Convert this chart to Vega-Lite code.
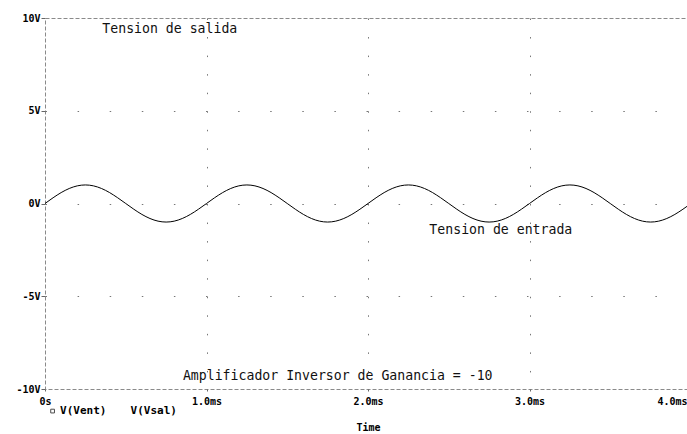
{
  "$schema": "https://vega.github.io/schema/vega-lite/v6.json",
  "width": 646,
  "height": 371,
  "autosize": "none",
  "padding": {"left": 45, "top": 18, "right": -4, "bottom": 45},
  "background": "white",
  "config": {
    "view": {"stroke": "#8a8a8a", "strokeDash": [4, 2], "strokeWidth": 1},
    "axis": {
      "labelFont": "DejaVu Sans Mono",
      "labelFontWeight": "bold",
      "labelFontSize": 10,
      "labelColor": "#000",
      "titleFont": "DejaVu Sans Mono",
      "titleFontWeight": "bold",
      "titleFontSize": 10,
      "titleColor": "#000",
      "domain": false,
      "tickColor": "#666",
      "gridColor": "#777",
      "gridWidth": 1
    }
  },
  "datasets": {
    "vent": [
      {"t": 0.00, "v": 0}, {"t": 0.05, "v": 0.309}, {"t": 0.10, "v": 0.588}, {"t": 0.15, "v": 0.809}, {"t": 0.20, "v": 0.951},
      {"t": 0.25, "v": 1}, {"t": 0.30, "v": 0.951}, {"t": 0.35, "v": 0.809}, {"t": 0.40, "v": 0.588}, {"t": 0.45, "v": 0.309},
      {"t": 0.50, "v": 0}, {"t": 0.55, "v": -0.309}, {"t": 0.60, "v": -0.588}, {"t": 0.65, "v": -0.809}, {"t": 0.70, "v": -0.951},
      {"t": 0.75, "v": -1}, {"t": 0.80, "v": -0.951}, {"t": 0.85, "v": -0.809}, {"t": 0.90, "v": -0.588}, {"t": 0.95, "v": -0.309},
      {"t": 1.00, "v": 0}, {"t": 1.05, "v": 0.309}, {"t": 1.10, "v": 0.588}, {"t": 1.15, "v": 0.809}, {"t": 1.20, "v": 0.951},
      {"t": 1.25, "v": 1}, {"t": 1.30, "v": 0.951}, {"t": 1.35, "v": 0.809}, {"t": 1.40, "v": 0.588}, {"t": 1.45, "v": 0.309},
      {"t": 1.50, "v": 0}, {"t": 1.55, "v": -0.309}, {"t": 1.60, "v": -0.588}, {"t": 1.65, "v": -0.809}, {"t": 1.70, "v": -0.951},
      {"t": 1.75, "v": -1}, {"t": 1.80, "v": -0.951}, {"t": 1.85, "v": -0.809}, {"t": 1.90, "v": -0.588}, {"t": 1.95, "v": -0.309},
      {"t": 2.00, "v": 0}, {"t": 2.05, "v": 0.309}, {"t": 2.10, "v": 0.588}, {"t": 2.15, "v": 0.809}, {"t": 2.20, "v": 0.951},
      {"t": 2.25, "v": 1}, {"t": 2.30, "v": 0.951}, {"t": 2.35, "v": 0.809}, {"t": 2.40, "v": 0.588}, {"t": 2.45, "v": 0.309},
      {"t": 2.50, "v": 0}, {"t": 2.55, "v": -0.309}, {"t": 2.60, "v": -0.588}, {"t": 2.65, "v": -0.809}, {"t": 2.70, "v": -0.951},
      {"t": 2.75, "v": -1}, {"t": 2.80, "v": -0.951}, {"t": 2.85, "v": -0.809}, {"t": 2.90, "v": -0.588}, {"t": 2.95, "v": -0.309},
      {"t": 3.00, "v": 0}, {"t": 3.05, "v": 0.309}, {"t": 3.10, "v": 0.588}, {"t": 3.15, "v": 0.809}, {"t": 3.20, "v": 0.951},
      {"t": 3.25, "v": 1}, {"t": 3.30, "v": 0.951}, {"t": 3.35, "v": 0.809}, {"t": 3.40, "v": 0.588}, {"t": 3.45, "v": 0.309},
      {"t": 3.50, "v": 0}, {"t": 3.55, "v": -0.309}, {"t": 3.60, "v": -0.588}, {"t": 3.65, "v": -0.809}, {"t": 3.70, "v": -0.951},
      {"t": 3.75, "v": -1}, {"t": 3.80, "v": -0.951}, {"t": 3.85, "v": -0.809}, {"t": 3.90, "v": -0.588}, {"t": 3.95, "v": -0.309},
      {"t": 4.00, "v": 0}
    ],
    "notes": [
      {"t": 0.355, "v": 9.41, "label": "Tension de salida"},
      {"t": 2.38, "v": -1.43, "label": "Tension de entrada"},
      {"t": 0.854, "v": -9.3, "label": "Amplificador Inversor de Ganancia = -10"}
    ],
    "legendText": [
      {"t": 0.093, "v": -11.19, "label": "V(Vent)"},
      {"t": 0.53, "v": -11.19, "label": "V(Vsal)"}
    ],
    "legendSymbol": [
      {"t": 0.047, "v": -11.19}
    ]
  },
  "layer": [
    {
      "data": {"name": "vent"},
      "mark": {"type": "line", "color": "#000", "strokeWidth": 1, "interpolate": "monotone"},
      "encoding": {
        "x": {
          "field": "t", "type": "quantitative",
          "scale": {"domain": [0, 4], "nice": false, "zero": false},
          "axis": {
            "values": [0, 1, 2, 3, 4],
            "labelExpr": "datum.value == 0 ? '0s' : format(datum.value, '.1f') + 'ms'",
            "labelAlign": {"condition": {"test": "datum.value == 4", "value": "right"}, "value": "center"},
            "labelOffset": {"condition": {"test": "datum.value == 4", "value": -4}, "value": 0},
            "tickSize": 2,
            "labelPadding": 5,
            "title": "Time",
            "titlePadding": 16,
            "grid": true,
            "gridDash": [1.5, 17.05],
            "gridOpacity": {"condition": {"test": "datum.value == 0 || datum.value == 4", "value": 0}, "value": 1}
          }
        },
        "y": {
          "field": "v", "type": "quantitative",
          "scale": {"domain": [-10, 10], "nice": false},
          "axis": {
            "values": [-10, -5, 0, 5, 10],
            "labelExpr": "datum.value + 'V'",
            "tickSize": 4,
            "labelPadding": 1,
            "title": null,
            "grid": true,
            "gridDash": [1.5, 30.6],
            "gridOpacity": {"condition": {"test": "datum.value == -10 || datum.value == 10", "value": 0}, "value": 1}
          }
        }
      }
    },
    {
      "data": {"name": "notes"},
      "mark": {"type": "text", "align": "left", "baseline": "middle", "font": "DejaVu Sans Mono", "fontSize": 13.2, "color": "#111"},
      "encoding": {
        "x": {"field": "t", "type": "quantitative"},
        "y": {"field": "v", "type": "quantitative"},
        "text": {"field": "label"}
      }
    },
    {
      "data": {"name": "legendText"},
      "mark": {"type": "text", "align": "left", "baseline": "middle", "font": "DejaVu Sans Mono", "fontWeight": "bold", "fontSize": 11, "color": "#000"},
      "encoding": {
        "x": {"field": "t", "type": "quantitative"},
        "y": {"field": "v", "type": "quantitative"},
        "text": {"field": "label"}
      }
    },
    {
      "data": {"name": "legendSymbol"},
      "mark": {"type": "point", "shape": "square", "size": 14, "filled": false, "stroke": "#000", "strokeWidth": 1},
      "encoding": {
        "x": {"field": "t", "type": "quantitative"},
        "y": {"field": "v", "type": "quantitative"}
      }
    }
  ]
}
